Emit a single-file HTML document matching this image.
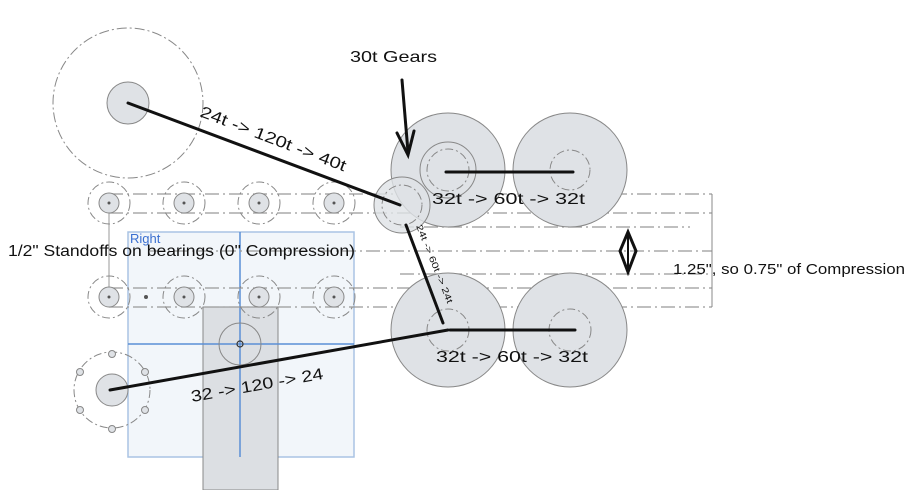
<!DOCTYPE html>
<html><head><meta charset="utf-8"><style>
html,body{margin:0;padding:0;background:#fff;}
svg{display:block;}
text{font-family:"Liberation Sans",sans-serif;fill:#111;}
</style></head><body>
<svg width="918" height="490" viewBox="0 0 918 490" xmlns="http://www.w3.org/2000/svg">
<g fill="none" stroke="#888" stroke-width="1">
<circle cx="128" cy="103" r="75" stroke-dasharray="10 3 2 3"/>
</g>
<circle cx="128" cy="103" r="21" fill="#dfe2e6" stroke="#888"/>

<rect x="128" y="232" width="226" height="225" fill="#f2f6fa" stroke="#aac4e4" stroke-width="1.5"/>
<rect x="203" y="307" width="75" height="183" fill="#dcdfe3" stroke="#888"/>
<line x1="240" y1="232" x2="240" y2="457" stroke="#5b8fd6" stroke-width="1.5"/>
<line x1="128" y1="344" x2="354" y2="344" stroke="#5b8fd6" stroke-width="1.5"/>
<circle cx="240" cy="344" r="21" fill="none" stroke="#888"/>
<circle cx="240" cy="344" r="3" fill="none" stroke="#333" stroke-width="1.2"/>
<text x="130" y="243" font-size="13" style="fill:#3a6fd0">Right</text>

<g stroke="#999" stroke-width="1.2" stroke-dasharray="14 4 2 4">
<line x1="109" y1="194" x2="712" y2="194"/>
<line x1="109" y1="213" x2="712" y2="213"/>
<line x1="400" y1="227" x2="690" y2="227"/>
<line x1="150" y1="251" x2="712" y2="251"/>
<line x1="400" y1="274" x2="712" y2="274"/>
<line x1="109" y1="288" x2="712" y2="288"/>
<line x1="109" y1="307" x2="712" y2="307"/>
</g>
<line x1="712" y1="194" x2="712" y2="307" stroke="#888"/>
<line x1="109" y1="194" x2="109" y2="307" stroke="#999"/>

<g fill="none" stroke="#888" stroke-dasharray="8 3 2 3">
<circle cx="109" cy="203" r="21"/><circle cx="184" cy="203" r="21"/><circle cx="259" cy="203" r="21"/><circle cx="334" cy="203" r="21"/>
<circle cx="109" cy="297" r="21"/><circle cx="184" cy="297" r="21"/><circle cx="259" cy="297" r="21"/><circle cx="334" cy="297" r="21"/>
</g>
<g fill="#dfe2e6" stroke="#888">
<circle cx="109" cy="203" r="10"/><circle cx="184" cy="203" r="10"/><circle cx="259" cy="203" r="10"/><circle cx="334" cy="203" r="10"/>
<circle cx="109" cy="297" r="10"/><circle cx="184" cy="297" r="10"/><circle cx="259" cy="297" r="10"/><circle cx="334" cy="297" r="10"/>
</g>
<g fill="#555">
<circle cx="109" cy="203" r="1.5"/><circle cx="184" cy="203" r="1.5"/><circle cx="259" cy="203" r="1.5"/><circle cx="334" cy="203" r="1.5"/>
<circle cx="109" cy="297" r="1.5"/><circle cx="184" cy="297" r="1.5"/><circle cx="259" cy="297" r="1.5"/><circle cx="334" cy="297" r="1.5"/>
<circle cx="146" cy="297" r="2"/>
</g>

<g fill="#dfe2e6" stroke="#888">
<circle cx="448" cy="170" r="57"/><circle cx="570" cy="170" r="57"/>
<circle cx="448" cy="330" r="57"/><circle cx="570" cy="330" r="57"/>
<circle cx="402" cy="205" r="28" fill-opacity="0.8"/>
</g>
<g fill="none" stroke="#888">
<circle cx="448" cy="170" r="28"/>
<circle cx="448" cy="170" r="21" stroke-dasharray="8 3 2 3"/>
<circle cx="570" cy="170" r="20" stroke-dasharray="8 3 2 3"/>
<circle cx="402" cy="205" r="20" stroke-dasharray="8 3 2 3"/>
<circle cx="448" cy="330" r="21" stroke-dasharray="8 3 2 3"/>
<circle cx="570" cy="330" r="21" stroke-dasharray="8 3 2 3"/>
</g>

<circle cx="112" cy="390" r="38" fill="none" stroke="#888" stroke-dasharray="8 3 2 3"/>
<circle cx="112" cy="390" r="16" fill="#dfe2e6" stroke="#888"/>
<g fill="#dfe2e6" stroke="#888">
<circle cx="112" cy="354" r="3.5"/><circle cx="112" cy="429" r="3.5"/>
<circle cx="80" cy="372" r="3.5"/><circle cx="145" cy="372" r="3.5"/>
<circle cx="80" cy="410" r="3.5"/><circle cx="145" cy="410" r="3.5"/>
</g>

<g stroke="#111" stroke-width="3" fill="none" stroke-linecap="round">
<line x1="128" y1="103" x2="400" y2="205"/>
<line x1="446" y1="172" x2="573" y2="172"/>
<line x1="450" y1="330" x2="575" y2="330"/>
<line x1="406" y1="225" x2="443" y2="323"/>
<polyline points="110,390 448,330"/>
<line x1="402" y1="80" x2="408" y2="152"/>
<polyline points="397,133 408,155 414,131"/>
<polygon points="628,232 620,251 628,272 636,251"/>
<line x1="628" y1="234" x2="628" y2="270" stroke-width="2"/>
</g>

<text x="350" y="62" font-size="16" textLength="87" lengthAdjust="spacingAndGlyphs">30t Gears</text>
<text font-size="16" transform="translate(199,116) rotate(21)" textLength="155" lengthAdjust="spacingAndGlyphs">24t -&gt; 120t -&gt; 40t</text>
<text x="432" y="204" font-size="16" textLength="153" lengthAdjust="spacingAndGlyphs">32t -&gt; 60t -&gt; 32t</text>
<text x="436" y="362" font-size="16" textLength="152" lengthAdjust="spacingAndGlyphs">32t -&gt; 60t -&gt; 32t</text>
<text font-size="9" transform="translate(416,226) rotate(68)" textLength="84" lengthAdjust="spacingAndGlyphs">24t -&gt; 60t -&gt; 24t</text>
<text x="8" y="256" font-size="16" textLength="347" lengthAdjust="spacingAndGlyphs">1/2" Standoffs on bearings (0" Compression)</text>
<text x="673" y="274" font-size="15" textLength="232" lengthAdjust="spacingAndGlyphs">1.25", so 0.75" of Compression</text>
<text font-size="16" transform="translate(192,402) rotate(-10)" textLength="134" lengthAdjust="spacingAndGlyphs">32 -&gt; 120 -&gt; 24</text>
</svg>
</body></html>
